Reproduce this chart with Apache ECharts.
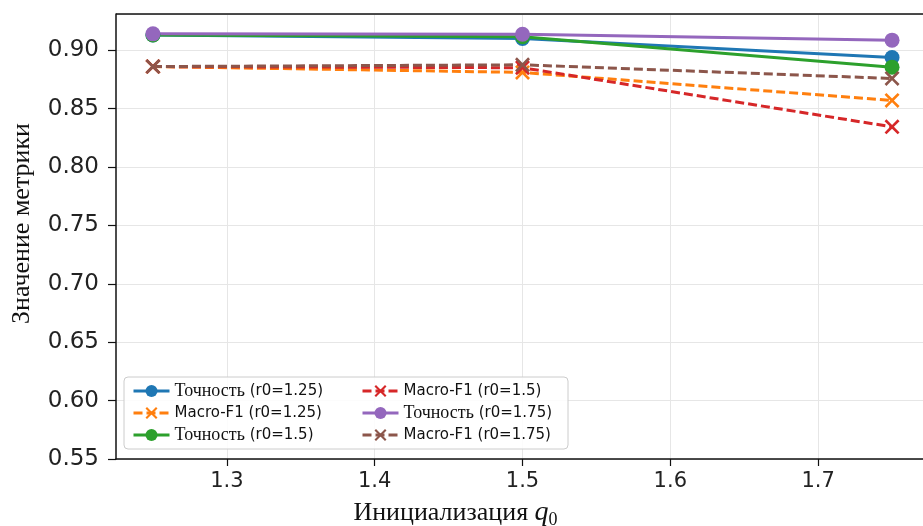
<!DOCTYPE html>
<html>
<head>
<meta charset="utf-8">
<script src="https://cdn.jsdelivr.net/npm/echarts@6/dist/echarts.min.js"></script>
<style>
  html, body { margin: 0; padding: 0; background: #fff; }
  #chart { width: 923px; height: 526px; }
</style>
</head>
<body>
<div id="chart"></div>
<script>
// значения q0 по оси X
const q0Values = [1.25, 1.5, 1.75]
const xTicks = [1.3, 1.4, 1.5, 1.6, 1.7]

// метрики для каждого r0
const acc125 = [0.913, 0.910, 0.8937]
const f1125 = [0.886, 0.881, 0.857]
const acc15 = [0.913, 0.9115, 0.8855]
const f115 = [0.886, 0.885, 0.8344]
const acc175 = [0.914, 0.9137, 0.9086]
const f1175 = [0.886, 0.8875, 0.8758]

const seriesNames = [
  'Точность (r0=1.25)', 'Macro-F1 (r0=1.25)', 'Точность (r0=1.5)',
  'Macro-F1 (r0=1.5)', 'Точность (r0=1.75)', 'Macro-F1 (r0=1.75)'
]
const seriesData = [acc125, f1125, acc15, f115, acc175, f1175]
const colors = ['#1f77b4', '#ff7f0e', '#2ca02c', '#d62728', '#9467bd', '#8c564b']

// крестик как заполненный контур
const crossPath = 'path://M0,1.5L1.5,0L6,4.5L10.5,0L12,1.5L7.5,6L12,10.5L10.5,12L6,7.5L1.5,12L0,10.5L4.5,6Z'

const chart = echarts.init(document.getElementById('chart'))

const series = seriesNames.map((name, i) => {
  const isF1 = name.startsWith('Macro')
  return {
    name,
    type: 'line',
    data: q0Values.map((q, j) => [q, seriesData[i][j]]),
    symbol: isF1 ? crossPath : 'circle',
    symbolSize: 15,
    color: colors[i],
    lineStyle: { width: 3, type: isF1 ? [9, 4] : 'solid', color: colors[i] },
    itemStyle: { color: colors[i] },
    emphasis: { disabled: true },
    z: 2
  }
})

const legendText = {
  fontSize: 15,
  fontFamily: 'DejaVu Sans',
  color: '#111',
  lineHeight: 20,
  rich: {
    t: { fontFamily: 'Liberation Serif', fontSize: 18, color: '#111' },
    s: { fontFamily: 'DejaVu Sans', fontSize: 15, color: '#111' }
  }
}
const legendFmt = (n) => {
  if (n.startsWith('Точность')) return '{t|Точность} {s|' + n.slice(9) + '}'
  return n
}
const legendBase = {
  orient: 'vertical',
  top: 376,
  itemGap: 2,
  itemWidth: 36,
  itemHeight: 15,
  textStyle: legendText,
  formatter: legendFmt,
  lineStyle: { width: 3 },
  selectedMode: false
}

chart.setOption({
  animation: false,
  backgroundColor: '#fff',
  grid: { left: 116, right: -6, top: 14, bottom: 67, outerBoundsMode: 'none' },
  xAxis: {
    type: 'value',
    min: 1.225,
    max: 1.775,
    name: '{a|Инициализация }{q|q}{s|0}',
    nameLocation: 'middle',
    nameGap: 38,
    nameTextStyle: {
      padding: [0, 134, 0, 0],
      rich: {
        a: { fontFamily: 'Liberation Serif', fontSize: 26, color: '#111' },
        q: { fontFamily: 'Liberation Serif', fontStyle: 'italic', fontSize: 28, color: '#111' },
        s: { fontFamily: 'Liberation Serif', fontSize: 18, color: '#111', padding: [14, 0, 0, 0] }
      }
    },
    axisLine: { show: true, lineStyle: { color: '#111', width: 1.5 } },
    axisTick: { show: true, length: 7, customValues: xTicks, lineStyle: { color: '#111', width: 1.2 } },
    axisLabel: { customValues: xTicks, fontSize: 21, fontFamily: 'DejaVu Sans', color: '#222', margin: 12 },
    splitLine: { show: true, lineStyle: { color: '#e6e6e6', width: 1 } }
  },
  yAxis: {
    type: 'value',
    min: 0.55,
    max: 0.931,
    interval: 0.05,
    name: 'Значение метрики',
    nameLocation: 'middle',
    nameGap: 81,
    nameTextStyle: { fontFamily: 'Liberation Serif', fontSize: 26, color: '#111', padding: [0, 0, 0, 26] },
    axisLine: { show: true, lineStyle: { color: '#111', width: 1.5 } },
    axisTick: { show: true, length: 8, lineStyle: { color: '#111', width: 1.2 } },
    axisLabel: {
      fontSize: 23, fontFamily: 'DejaVu Sans', color: '#222', margin: 17,
      formatter: (v) => v.toFixed(2),
      showMaxLabel: false
    },
    splitLine: { show: true, lineStyle: { color: '#e6e6e6', width: 1 } }
  },
  graphic: [
    // верхняя рамка графика
    { type: 'line', shape: { x1: 116, y1: 14, x2: 923, y2: 14 }, style: { stroke: '#111', lineWidth: 1.5 }, z: 5 },
    // рамка легенды
    {
      type: 'rect',
      shape: { x: 124, y: 377, width: 444, height: 72, r: 4 },
      style: { fill: 'rgba(255,255,255,0.85)', stroke: '#cccccc', lineWidth: 1 },
      z: 3
    }
  ],
  legend: [
    Object.assign({ left: 127, data: seriesNames.slice(0, 3) }, legendBase),
    Object.assign({ left: 356, data: seriesNames.slice(3) }, legendBase)
  ],
  series
})
</script>
</body>
</html>
